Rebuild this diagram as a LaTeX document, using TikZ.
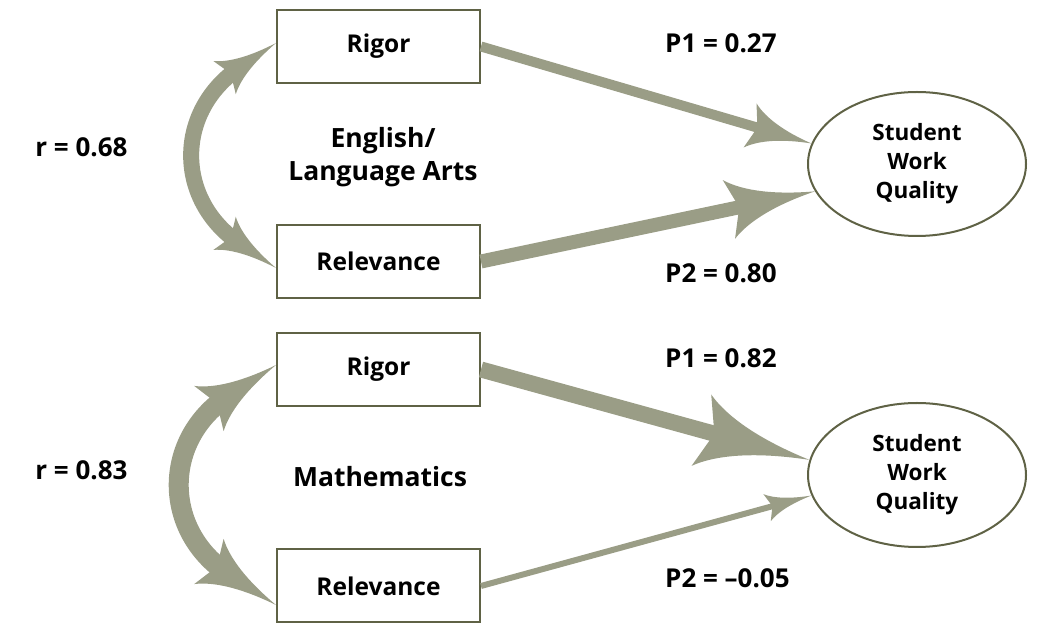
\documentclass[tikz,border=0pt]{standalone}
\usepackage{fontspec}
\setmainfont{Open Sans}
\usetikzlibrary{arrows.meta,calc,shapes.geometric}

\pgfdeclarearrow{
  name = Swoosh,
  parameters = {\the\pgfarrowlength,\the\pgfarrowwidth},
  setup code = {
    \pgfarrowssettipend{\pgfarrowlength}
    \pgfarrowssetbackend{0pt}
    \pgfarrowssetlineend{0.3\pgfarrowlength}
    \pgfarrowssetvisualbackend{0pt}
    \pgfarrowssavethe\pgfarrowlength
    \pgfarrowssavethe\pgfarrowwidth
  },
  drawing code = {
    \pgfpathmoveto{\pgfpoint{\pgfarrowlength}{0pt}}
    \pgfpathcurveto{\pgfpoint{0.55\pgfarrowlength}{0.08\pgfarrowwidth}}
                   {\pgfpoint{0.2\pgfarrowlength}{0.25\pgfarrowwidth}}
                   {\pgfpoint{0pt}{0.5\pgfarrowwidth}}
    \pgfpathlineto{\pgfpoint{0.12\pgfarrowlength}{0pt}}
    \pgfpathlineto{\pgfpoint{0pt}{-0.5\pgfarrowwidth}}
    \pgfpathcurveto{\pgfpoint{0.2\pgfarrowlength}{-0.25\pgfarrowwidth}}
                   {\pgfpoint{0.55\pgfarrowlength}{-0.08\pgfarrowwidth}}
                   {\pgfpoint{\pgfarrowlength}{0pt}}
    \pgfpathclose
    \pgfusepathqfill
  },
  defaults = {length = 20pt, width = 14pt}
}

\definecolor{arr}{HTML}{9A9D86}
\definecolor{boxc}{HTML}{5F6245}

\begin{document}
\begin{tikzpicture}[x=1pt,y=1pt,
  box/.style={draw=boxc, line width=2pt, minimum width=203pt, minimum height=73pt,
    inner sep=0pt, fill=white, font=\bfseries\fontsize{24.5}{28}\selectfont},
  oval/.style={ellipse, draw=boxc, line width=2pt, minimum width=218pt, minimum height=144pt,
    inner sep=0pt, fill=white, align=center, font=\bfseries\fontsize{22.5}{29}\selectfont},
  lab/.style={inner sep=0pt, align=center, font=\bfseries\fontsize{26}{33}\selectfont},
  big/.style={lab, font=\bfseries\fontsize{26.5}{33}\selectfont},
  conn/.style={draw=arr, line cap=butt}
]
\useasboundingbox (0,0) rectangle (1050,637);

% nodes
\node[box] (rig1) at (378.5,590.5) {Rigor};
\node[box] (rel1) at (378.5,375.5) {Relevance};
\node[box] (rig2) at (378.5,267.5) {Rigor};
\node[box] (rel2) at (378.5,51) {Relevance};
\node[oval] (swq1) at (917,473) {Student\\Work\\Quality};
\node[oval] (swq2) at (917,162) {Student\\Work\\Quality};

% labels
\node[lab] (r1) at (81.5,490) {r = 0.68};
\node[lab] (r2) at (81.5,167) {r = 0.83};
\node[big] (ela) at (383,480) {English/\\Language Arts};
\node[big] (math) at (380,160) {Mathematics};
\node[lab, anchor=west] (p1a) at (665,594) {P1 = 0.27};
\node[lab, anchor=west] (p2a) at (665,364) {P2 = 0.80};
\node[lab, anchor=west] (p1b) at (665,279) {P1 = 0.82};
\node[lab, anchor=west] (p2b) at (665,59) {P2 = –0.05};

% path arrows
\draw[conn, line width=10pt, -{Swoosh[length=64pt,width=46pt]}] (rig1.east) -- (swq1.169.7);
\draw[conn, line width=14pt, -{Swoosh[length=88pt,width=60pt]}] (rel1.east) -- (swq1.195.3);
\draw[conn, line width=16pt, -{Swoosh[length=112pt,width=74pt]}] (rig2.east) -- (swq2.172);
\draw[conn, line width=6pt, -{Swoosh[length=46pt,width=28pt]}] (rel2.east) -- (swq2.191.8);

% correlation arcs
\draw[conn, line width=16pt, {Swoosh[length=62pt,width=40pt]}-{Swoosh[length=62pt,width=40pt]}]
  ($(rel1.west)+(0,-6.5)$) .. controls +(146:122) and +(214:122) .. ($(rig1.west)+(0,3.5)$);
\draw[conn, line width=20pt, {Swoosh[length=80pt,width=54pt]}-{Swoosh[length=80pt,width=54pt]}]
  ($(rel2.west)+(0,-19)$) .. controls +(147:136) and +(213:136) .. ($(rig2.west)+(0,4.5)$);
\end{tikzpicture}
\end{document}
